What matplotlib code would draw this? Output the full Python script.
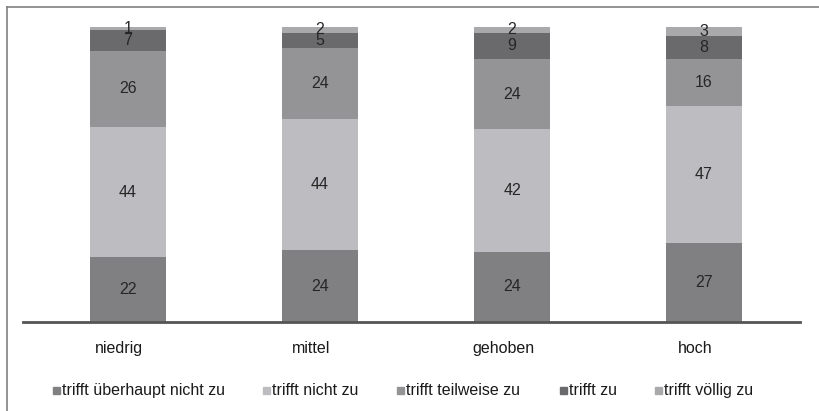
import matplotlib
matplotlib.use("Agg")
import matplotlib.pyplot as plt
from matplotlib.patches import Rectangle
from matplotlib.lines import Line2D
import matplotlib.transforms as mtransforms
import numpy as np

categories = ["niedrig", "mittel", "gehoben", "hoch"]
series_names = ["trifft überhaupt nicht zu", "trifft nicht zu", "trifft teilweise zu",
                "trifft zu", "trifft völlig zu"]
ueberhaupt_nicht = [22, 24, 24, 27]
nicht = [44, 44, 42, 47]
teilweise = [26, 24, 24, 16]
trifft_zu = [7, 5, 9, 8]
voellig = [1, 2, 2, 3]
series_values = [ueberhaupt_nicht, nicht, teilweise, trifft_zu, voellig]
colors = ["#808083", "#bdbdc1", "#949497", "#6a6a6d", "#a9a9ac"]

plt.rcParams['font.family'] = ['Liberation Sans', 'DejaVu Sans']

W, H = 819, 411
fig = plt.figure(figsize=(W / 100, H / 100), dpi=100)

# axes geometry in pixels
ax_left, ax_right = 23, 800
base_y = 322
top_y = 27
ax = fig.add_axes([ax_left / W, 1 - base_y / H, (ax_right - ax_left) / W, (base_y - top_y) / H])

x = np.arange(len(categories))
px_per_cat = 192
first_center = 128
ax.set_xlim(-(first_center - ax_left) / px_per_cat, (ax_right - first_center) / px_per_cat)
ax.set_ylim(0, 100)

# 100% stacked: normalise each category
totals = np.sum(np.array(series_values, dtype=float), axis=0)

bottom = np.zeros(len(categories))
width = 76 / px_per_cat
for name, vals, col in zip(series_names, series_values, colors):
    vals = np.array(vals, dtype=float)
    share = vals / totals * 100
    ax.bar(x, share, width, bottom=bottom, color=col, label=name, clip_on=False)
    for xi, b, v, lab in zip(x, bottom, share, vals):
        ax.text(xi, b + v / 2, f"{int(lab)}", ha="center", va="center",
                fontsize=11.5, color="#262626", clip_on=False)
    bottom += share

for s in ["top", "right", "left"]:
    ax.spines[s].set_visible(False)
ax.spines["bottom"].set_color("#555555")
ax.spines["bottom"].set_linewidth(2)
ax.set_yticks([])
ax.set_xticks(x)
ax.set_xticklabels(categories, fontsize=11.5, color="#1a1a1a")
ax.tick_params(axis="x", length=0, pad=14)
shift = mtransforms.ScaledTranslation(-9 / 100, 0, fig.dpi_scale_trans)
for lbl in ax.get_xticklabels():
    lbl.set_transform(lbl.get_transform() + shift)

# legend drawn manually
legend_x = [53, 263, 397, 560, 655]
leg_y = 390
for lx, name, col in zip(legend_x, series_names, colors):
    sq = 7
    fig.patches.append(Rectangle((lx / W, 1 - (leg_y + sq / 2) / H), sq / W, sq / H,
                                 transform=fig.transFigure, color=col))
    fig.text((lx + 9) / W, 1 - leg_y / H, name, ha="left", va="center",
             fontsize=11.5, color="#1a1a1a")

# figure frame (top and left edges visible)
fig.add_artist(Line2D([7 / W, 1], [1 - 7 / H, 1 - 7 / H], transform=fig.transFigure,
                      color="#7f8080", lw=1.2))
fig.add_artist(Line2D([7 / W, 7 / W], [1 - 7 / H, 0], transform=fig.transFigure,
                      color="#7f8080", lw=1.2))

fig.savefig("out.png", dpi=100, facecolor="white")
